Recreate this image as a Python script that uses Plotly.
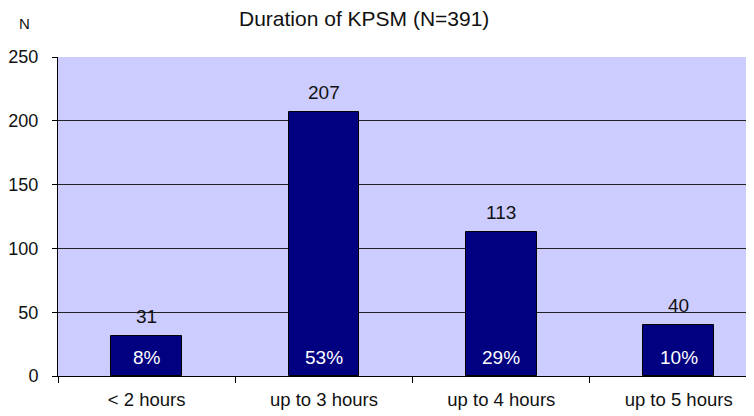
import plotly.graph_objects as go

categories = ["< 2 hours", "up to 3 hours", "up to 4 hours", "up to 5 hours"]
counts = [31, 207, 113, 40]
percents = ["8%", "53%", "29%", "10%"]
y_ticks = [0, 50, 100, 150, 200, 250]

fig = go.Figure()
fig.add_trace(go.Bar(
    x=categories, y=counts, width=0.40,
    marker=dict(color="#000080", line=dict(color="#000000", width=1)),
    hoverinfo="skip",
))

annotations = []
for c, v, p in zip(categories, counts, percents):
    annotations.append(dict(x=c, y=v, text=str(v), showarrow=False, yanchor="bottom",
                            yshift=7, font=dict(size=19, color="#111111")))
    annotations.append(dict(x=c, y=0, text=p, showarrow=False, yanchor="middle",
                            yshift=19, font=dict(size=19, color="#ffffff")))
annotations.append(dict(xref="paper", yref="paper", x=-0.047, y=1.105, text="N", showarrow=False,
                        xanchor="center", yanchor="middle", font=dict(size=15, color="#111111")))
annotations.append(dict(xref="paper", yref="paper", x=0.434, y=1.122, text="Duration of KPSM (N=391)",
                        showarrow=False, xanchor="center", yanchor="middle",
                        font=dict(size=21, color="#111111")))

fig.update_layout(
    width=754, height=416,
    margin=dict(l=47, r=0, t=49, b=48),
    paper_bgcolor="#ffffff",
    plot_bgcolor="#ccccff",
    font=dict(family="Liberation Sans, Arial, sans-serif", size=18, color="#111111"),
    showlegend=False,
    bargap=0,
    annotations=annotations,
    xaxis=dict(
        range=[-0.5, 3.47], showgrid=False, showline=True, linecolor="#000000", linewidth=1,
        ticks="outside", tickson="boundaries", ticklen=6, tickcolor="#000000",
        ticklabelstandoff=7, tickfont=dict(size=18.5),
    ),
    yaxis=dict(
        range=[0, 250], tickvals=y_ticks, showgrid=True, gridcolor="#222222", gridwidth=1,
        showline=True, linecolor="#000000", linewidth=1, ticks="outside", ticklen=5,
        tickcolor="#000000", ticklabelstandoff=10, tickfont=dict(size=18), zeroline=False,
    ),
)

fig.write_html("out.html")
